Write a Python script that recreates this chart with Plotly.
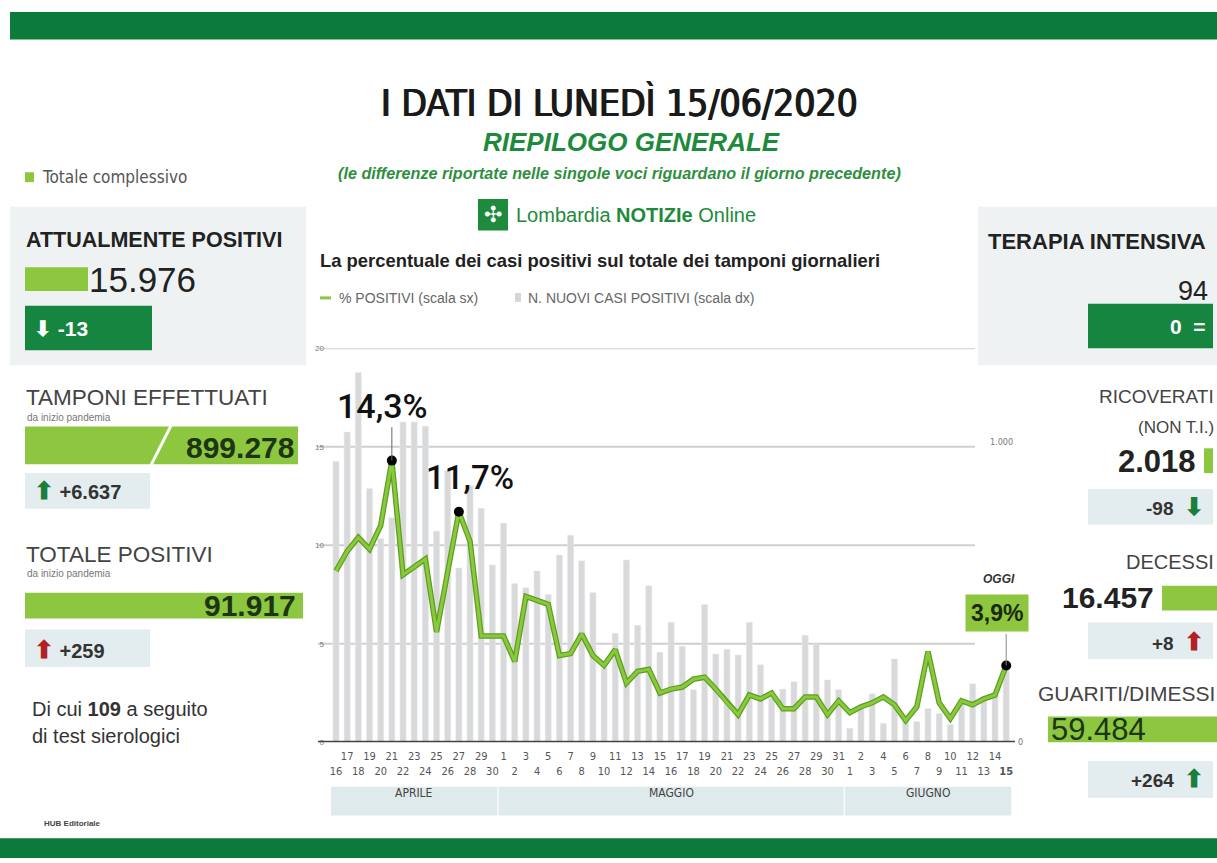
import plotly.graph_objects as go

# ---------------- DATA ----------------
days = ([f"{d}/04" for d in range(16, 31)] + [f"{d}/05" for d in range(1, 32)]
        + [f"{d}/06" for d in range(1, 16)])
day_labels = [d.split("/")[0] for d in days]

new_cases = [950, 1050, 1252, 859, 690, 760, 1084, 1084, 1070, 715, 919, 590, 869, 792, 600,
             742, 537, 523, 580, 500, 634, 701, 614, 507, 250, 369, 617, 396, 530, 305, 406,
             325, 178, 466, 299, 315, 295, 406, 262, 150, 180, 205, 362, 332, 211, 178,
             47, 114, 164, 64, 282, 77, 70, 114, 97, 60, 144, 198, 154, 164, 259]

pct_positive = [8.7, 9.7, 10.4, 9.8, 11.0, 14.3, 8.5, 8.9, 9.3, 5.6, 8.6, 11.7, 10.2, 5.4, 5.4,
                5.4, 4.1, 7.4, 7.2, 7.0, 4.4, 4.5, 5.5, 4.4, 3.9, 4.7, 3.0, 3.6, 3.7, 2.5, 2.7,
                2.8, 3.2, 3.3, 2.7, 2.0, 1.4, 2.4, 2.2, 2.5, 1.7, 1.7, 2.3, 2.3, 1.4, 2.1,
                1.5, 1.8, 2.0, 2.3, 1.9, 1.1, 1.8, 4.6, 2.0, 1.2, 2.1, 1.9, 2.2, 2.4, 3.9]

highlight_days = ["21/04", "27/04", "15/06"]
highlight_text = ["14,3%", "11,7%", "3,9%"]

months = ["APRILE", "MAGGIO", "GIUGNO"]
month_suffix = ["/04", "/05", "/06"]

left_ticks = [0, 5, 10, 15, 20]
right_ticks = [0, 1000]
right_ticktext = ["0", "1.000"]

# ---------------- GEOMETRY HELPERS ----------------
W, H = 1217, 863
def px(x):
    return x / W
def py(y):
    return 1 - y / H

GREEN = "#8dc63f"
DARK_GREEN = "#0b7a3b"
BOX_GREEN = "#16853f"
LIGHT_BOX = "#e3ecee"
PANEL = "#eef2f3"
FONT = "Liberation Sans, Arial, sans-serif"
NARROW = "Liberation Sans Narrow, DejaVu Sans Condensed, Arial Narrow, sans-serif"

idx = list(range(len(days)))

x0_px, x1_px = 325, 1017
step = 11.17
xr = [(x0_px - 336) / step, (x1_px - 336) / step]
ydom = [py(746), py(348)]

fig = go.Figure()

fig.add_trace(go.Bar(x=idx, y=new_cases, marker_color="#d9d9d9", width=0.55,
                     yaxis="y", showlegend=False, hoverinfo="skip"))
fig.add_trace(go.Scatter(x=idx, y=pct_positive, mode="lines", yaxis="y2",
                         line=dict(color="#5f9e22", width=5.5), showlegend=False, hoverinfo="skip"))
fig.add_trace(go.Scatter(x=idx, y=pct_positive, mode="lines", yaxis="y2",
                         line=dict(color="#88ca3c", width=3), showlegend=False, hoverinfo="skip"))
hi_idx = [days.index(d) for d in highlight_days]
fig.add_trace(go.Scatter(x=hi_idx, y=[pct_positive[i] for i in hi_idx], mode="markers", yaxis="y2",
                         marker=dict(color="black", size=10), showlegend=False, hoverinfo="skip"))

ticktext = []
for i, lab in enumerate(day_labels):
    t = f"<b>{lab}</b>" if i == len(day_labels) - 1 else lab
    ticktext.append(f"{t}<br> " if i % 2 == 1 else f" <br>{t}")

fig.update_layout(
    width=W, height=H, autosize=False,
    margin=dict(l=0, r=0, t=0, b=0),
    paper_bgcolor="white", plot_bgcolor="rgba(0,0,0,0)",
    font=dict(family=FONT, color="#333"),
    xaxis=dict(domain=[px(x0_px), px(x1_px)], range=xr, tickmode="array", tickvals=idx,
               ticktext=ticktext, tickfont=dict(size=11, color="#555", family=NARROW),
               tickangle=0, showgrid=False, zeroline=False, showline=False, ticks="",
               ticklabelstandoff=6),
    yaxis=dict(domain=ydom, range=[0, 1333.33], side="right", showticklabels=False,
               showgrid=False, zeroline=False, showline=False),
    yaxis2=dict(domain=ydom, range=[0, 20], overlaying="y", side="left", tickmode="array",
                tickvals=left_ticks, tickfont=dict(size=8, color="#777"), showgrid=False,
                zeroline=False, showline=False, anchor="x"),
)

shapes = []
shapes.append(dict(type="rect", xref="paper", yref="paper", x0=px(10), x1=px(1217), y0=py(8), y1=py(36),
                   fillcolor=DARK_GREEN, line_width=0, layer="below"))
shapes.append(dict(type="rect", xref="paper", yref="paper", x0=0, x1=1, y0=0, y1=py(843),
                   fillcolor=DARK_GREEN, line_width=0, layer="below"))
shapes.append(dict(type="rect", xref="paper", yref="paper", x0=px(10), x1=px(306), y0=py(365), y1=py(205),
                   fillcolor=PANEL, line_width=0, layer="below"))
shapes.append(dict(type="rect", xref="paper", yref="paper", x0=px(978), x1=1, y0=py(365), y1=py(205),
                   fillcolor=PANEL, line_width=0, layer="below"))
for v in left_ticks[1:]:
    shapes.append(dict(type="line", xref="paper", yref="y2", x0=px(318), x1=px(975), y0=v, y1=v,
                       line=dict(color="#cfcfcf", width=2), layer="below"))
shapes.append(dict(type="line", xref="paper", yref="y2", x0=px(318), x1=px(1015), y0=0, y1=0,
                   line=dict(color="#444", width=3), layer="above"))
for m, suf in zip(months, month_suffix):
    ii = [i for i, d in enumerate(days) if d.endswith(suf)]
    a, b = ii[0] - 0.45, ii[-1] + 0.45
    shapes.append(dict(type="rect", xref="x", yref="paper", x0=a, x1=b, y0=py(820), y1=py(791),
                       fillcolor="#dfeaec", line_width=0, layer="below"))
i = hi_idx[0]
shapes.append(dict(type="line", xref="x", yref="y2", x0=i, x1=i, y0=pct_positive[i],
                   y1=pct_positive[i] + 1.7, line=dict(color="#666", width=1)))
i = hi_idx[2]
shapes.append(dict(type="line", xref="x", yref="y2", x0=i, x1=i, y0=pct_positive[i],
                   y1=pct_positive[i] + 1.6, line=dict(color="#888", width=1)))

shapes += [
    dict(type="rect", xref="paper", yref="paper", x0=px(25), x1=px(34), y0=py(180), y1=py(170),
         fillcolor=GREEN, line_width=0),
    dict(type="rect", xref="paper", yref="paper", x0=px(25), x1=px(88), y0=py(290), y1=py(266),
         fillcolor=GREEN, line_width=0),
    dict(type="rect", xref="paper", yref="paper", x0=px(25), x1=px(152), y0=py(350), y1=py(305),
         fillcolor=BOX_GREEN, line_width=0),
    dict(type="rect", xref="paper", yref="paper", x0=px(25), x1=px(298), y0=py(465), y1=py(427),
         fillcolor=GREEN, line_width=0),
    dict(type="line", xref="paper", yref="paper", x0=px(151), x1=px(171), y0=py(466), y1=py(426),
         line=dict(color="white", width=3)),
    dict(type="rect", xref="paper", yref="paper", x0=px(25), x1=px(150), y0=py(510), y1=py(474),
         fillcolor=LIGHT_BOX, line_width=0),
    dict(type="rect", xref="paper", yref="paper", x0=px(25), x1=px(303), y0=py(621), y1=py(595),
         fillcolor=GREEN, line_width=0),
    dict(type="rect", xref="paper", yref="paper", x0=px(25), x1=px(150), y0=py(670), y1=py(632),
         fillcolor=LIGHT_BOX, line_width=0),
]
shapes += [
    dict(type="rect", xref="paper", yref="paper", x0=px(1088), x1=px(1213), y0=py(348), y1=py(303),
         fillcolor=BOX_GREEN, line_width=0),
    dict(type="rect", xref="paper", yref="paper", x0=px(1204), x1=px(1213), y0=py(474), y1=py(449),
         fillcolor=GREEN, line_width=0),
    dict(type="rect", xref="paper", yref="paper", x0=px(1088), x1=px(1213), y0=py(526), y1=py(490),
         fillcolor=LIGHT_BOX, line_width=0),
    dict(type="rect", xref="paper", yref="paper", x0=px(1162), x1=px(1217), y0=py(613), y1=py(588),
         fillcolor=GREEN, line_width=0),
    dict(type="rect", xref="paper", yref="paper", x0=px(1088), x1=px(1213), y0=py(662), y1=py(625),
         fillcolor=LIGHT_BOX, line_width=0),
    dict(type="rect", xref="paper", yref="paper", x0=px(1048), x1=px(1217), y0=py(746), y1=py(720),
         fillcolor=GREEN, line_width=0),
    dict(type="rect", xref="paper", yref="paper", x0=px(1088), x1=px(1213), y0=py(802), y1=py(765),
         fillcolor=LIGHT_BOX, line_width=0),
]
shapes.append(dict(type="rect", xref="paper", yref="paper", x0=px(478), x1=px(508), y0=py(229), y1=py(197),
                   fillcolor="#1e8a3c", line_width=0))
shapes.append(dict(type="line", xref="paper", yref="paper", x0=px(320), x1=px(331), y0=py(297), y1=py(297),
                   line=dict(color=GREEN, width=3)))
shapes.append(dict(type="rect", xref="paper", yref="paper", x0=px(515), x1=px(521), y0=py(301), y1=py(292),
                   fillcolor="#d6d6d6", line_width=0))
fig.update_layout(shapes=shapes)

ann = []
def T(x, y, text, size, color="#333", xanchor="left", family=FONT, **kw):
    ann.append(dict(xref="paper", yref="paper", x=px(x), y=py(y), text=text, showarrow=False,
                    xanchor=xanchor, yanchor="middle", font=dict(size=size, color=color, family=family), **kw))

# header
ann.append(dict(xref="paper", yref="paper", x=px(619), y=py(100), text="I DATI DI LUNEDÌ 15/06/2020",
                showarrow=False, xanchor="center", yanchor="middle",
                font=dict(size=37, color="#1a1a1a", family=NARROW,
                          shadow="0.7px 0 0 #1a1a1a, -0.7px 0 0 #1a1a1a")))
T(631, 139, "<b><i>RIEPILOGO GENERALE</i></b>", 26, "#1e8a3c", "center")
T(619, 171, "<b><i>(le differenze riportate nelle singole voci riguardano il giorno precedente)</i></b>",
  16.2, "#2f8f3f", "center")
T(493, 213, "✣", 22, "white", "center")
T(514, 213, "Lombardia <b>NOTIZIe</b> Online", 20, "#1e8a3c", "left")
T(318, 259, "<b>La percentuale dei casi positivi sul totale dei tamponi giornalieri</b>", 18.4, "#222")
T(337, 297, "% POSITIVI (scala sx)", 14, "#666")
T(526, 297, "N. NUOVI CASI POSITIVI (scala dx)", 14, "#666")

# chart annotations
ann.append(dict(xref="x", yref="y2", x=hi_idx[0], y=pct_positive[hi_idx[0]], text=highlight_text[0],
                showarrow=False, xanchor="center", yanchor="bottom", xshift=-9, yshift=33,
                font=dict(size=34, color="#111", family="Roboto, Liberation Sans, Arial", weight=500)))
ann.append(dict(xref="x", yref="y2", x=hi_idx[1], y=pct_positive[hi_idx[1]], text=highlight_text[1],
                showarrow=False, xanchor="center", yanchor="bottom", xshift=11, yshift=13,
                font=dict(size=33, color="#111", family="Roboto, Liberation Sans, Arial", weight=500)))
ann.append(dict(xref="x", yref="y2", x=hi_idx[2], y=pct_positive[hi_idx[2]],
                text=f"<b>{highlight_text[2]}</b>",
                showarrow=False, xanchor="center", yanchor="bottom", xshift=-9, yshift=33,
                bgcolor=GREEN, borderpad=5, font=dict(size=23, color="#1a2a10")))
ann.append(dict(xref="x", yref="y2", x=hi_idx[2], y=pct_positive[hi_idx[2]], text="<b><i>OGGI</i></b>",
                showarrow=False, xanchor="center", yanchor="bottom", xshift=-7, yshift=77,
                font=dict(size=12, color="#333")))
ann.append(dict(xref="paper", yref="y", x=px(1001), y=right_ticks[1], text=right_ticktext[1],
                showarrow=False, xanchor="center", yanchor="bottom", yshift=-2,
                font=dict(size=9, color="#777", family=NARROW)))
ann.append(dict(xref="paper", yref="y", x=px(1020), y=right_ticks[0], text=right_ticktext[0],
                showarrow=False, xanchor="center", yanchor="middle",
                font=dict(size=9, color="#777", family=NARROW)))
for m, suf in zip(months, month_suffix):
    ii = [i for i, d in enumerate(days) if d.endswith(suf)]
    ann.append(dict(xref="x", yref="paper", x=(ii[0] + ii[-1]) / 2, y=py(806), text=m, showarrow=False,
                    font=dict(size=12, color="#444", family=NARROW)))

# left panel
T(40, 175, "Totale complessivo", 17, "#555", family=NARROW)
T(24, 238, "<b>ATTUALMENTE POSITIVI</b>", 21.5, "#222")
T(87, 278, "15.976", 35, "#222")
T(32, 328, "<b>⬇ -13</b>", 21, "white")
T(24, 398, "TAMPONI EFFETTUATI", 22.5, "#444")
T(25, 418, "da inizio pandemia", 10, "#777")
T(296, 448, "<b>899.278</b>", 30, "#1c3515", "right")
T(32, 492, "<b><span style='color:#1a7f3a;font-size:24px'>⬆</span> +6.637</b>", 20, "#333")
T(24, 556, "TOTALE POSITIVI", 22.5, "#444")
T(25, 576, "da inizio pandemia", 10, "#777")
T(298, 608, "<b>91.917</b>", 30, "#1c3515", "right")
T(32, 652, "<b><span style='color:#b22222;font-size:24px'>⬆</span> +259</b>", 20, "#333")
T(30, 712, "Di cui <b>109</b> a seguito", 20, "#333")
T(30, 740, "di test sierologici", 20, "#333")
T(42, 828, "<b>HUB Editoriale</b>", 8, "#444")

# right panel
T(1208, 240, "<b>TERAPIA INTENSIVA</b>", 22, "#222", "right")
T(1210, 290, "94", 27, "#222", "right")
T(1208, 326, "<b>0  =</b>", 21, "white", "right")
T(1216, 397, "RICOVERATI", 19, "#444", "right")
T(1216, 428, "(NON T.I.)", 17, "#444", "right")
T(1198, 462, "<b>2.018</b>", 31, "#222", "right")
T(1206, 508, "<b>-98  <span style='color:#1a7f3a;font-size:24px'>⬇</span></b>", 19, "#333", "right")
T(1216, 564, "DECESSI", 20, "#444", "right")
T(1156, 600, "<b>16.457</b>", 30, "#222", "right")
T(1206, 644, "<b>+8  <span style='color:#b22222;font-size:24px'>⬆</span></b>", 19, "#333", "right")
T(1217, 697, "GUARITI/DIMESSI", 21, "#444", "right")
T(1049, 733, "59.484", 31, "#1c3515", "left")
T(1206, 783, "<b>+264  <span style='color:#1a7f3a;font-size:24px'>⬆</span></b>", 19, "#333", "right")

fig.update_layout(annotations=ann)

fig.write_html("out.html", config={"displayModeBar": False},
               post_script="document.body.style.margin='0';")
